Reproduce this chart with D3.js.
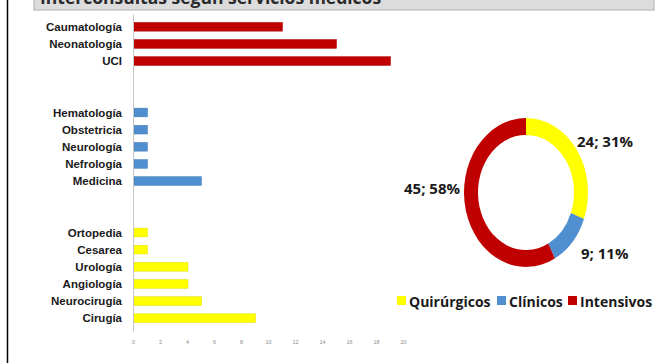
<!DOCTYPE html>
<html>
<head>
<meta charset="utf-8">
<script src="https://cdn.jsdelivr.net/npm/d3@7"></script>
<style>
  body { margin: 0; background: #fff; }
  svg { display: block; font-family: 'Open Sans', 'Noto Sans', sans-serif; }
  .cat text { font-size: 11.5px; font-weight: 600; fill: #1a1a1a; }
  .vals text { font-size: 5.5px; fill: #8c8c8c; }
  .big { font-size: 15px; font-weight: 700; fill: #1a1a1a; }
  .leg { font-size: 14px; font-weight: 700; fill: #1a1a1a; }
</style>
</head>
<body>
<svg></svg>
<script>
const WIDTH = 657
const HEIGHT = 363

// bar rows top to bottom, blank entries are the gaps between groups
const SERVICES = ['Caumatología', 'Neonatología', 'UCI', '_a', '_b',
  'Hematología', 'Obstetricia', 'Neurología', 'Nefrología', 'Medicina', '_c', '_d',
  'Ortopedia', 'Cesarea', 'Urología', 'Angiología', 'Neurocirugía', 'Cirugía']
const COUNTS = [11, 15, 19, null, null,
  1, 1, 1, 1, 5, null, null,
  1, 1, 4, 4, 5, 9]
const GROUP_OF = ['Intensivos', 'Intensivos', 'Intensivos', null, null,
  'Clínicos', 'Clínicos', 'Clínicos', 'Clínicos', 'Clínicos', null, null,
  'Quirúrgicos', 'Quirúrgicos', 'Quirúrgicos', 'Quirúrgicos', 'Quirúrgicos', 'Quirúrgicos']
const X_TICKS = [0, 2, 4, 6, 8, 10, 12, 14, 16, 18, 20]

const GROUPS = ['Quirúrgicos', 'Clínicos', 'Intensivos']
const GROUP_TOTALS = [24, 9, 45]
const GROUP_LABELS = ['24; 31%', '9; 11%', '45; 58%']
const GROUP_COLORS = ['#ffff00', '#4f8fd0', '#c00000']

const TITLE = 'Interconsultas según servicios médicos'

const color = d3.scaleOrdinal().domain(GROUPS).range(GROUP_COLORS)

const svg = d3.select('svg').attr('width', WIDTH).attr('height', HEIGHT)

// left frame line
svg.append('line')
  .attr('x1', 7.5).attr('x2', 7.5).attr('y1', 0).attr('y2', HEIGHT)
  .attr('stroke', '#000').attr('stroke-width', 1.5)

// title banner, cut at the top like the source image
svg.append('rect')
  .attr('x', 34).attr('y', -2).attr('width', 620).attr('height', 12)
  .attr('fill', '#dcdcdc').attr('stroke', '#b4bcbc').attr('stroke-width', 1.2)
svg.append('text')
  .attr('x', 40).attr('y', 4)
  .attr('font-size', 17.5).attr('font-weight', 700).attr('fill', '#2a2a2a')
  .text(TITLE)

// bar chart
const x = d3.scaleLinear().domain([0, 20]).range([133, 403])
const y = d3.scaleBand().domain(SERVICES).range([14, 331]).padding(0.49)

const bars = SERVICES.map((s, i) => ({ name: s, value: COUNTS[i], group: GROUP_OF[i] }))
  .filter(d => d.value !== null)

svg.append('g').selectAll('rect')
  .data(bars)
  .enter()
  .append('rect')
  .attr('x', x(0) + 1)
  .attr('y', d => y(d.name))
  .attr('width', d => x(d.value) - x(0))
  .attr('height', y.bandwidth())
  .attr('fill', d => color(d.group))
  .attr('stroke', d => d3.color(color(d.group)).darker(0.4))
  .attr('stroke-width', 0.5)

const yAxis = d3.axisLeft(y)
  .tickSize(0)
  .tickSizeOuter(0)
  .tickPadding(11)
  .tickFormat(d => d.startsWith('_') ? '' : d)

const yg = svg.append('g').attr('class', 'cat')
  .attr('transform', `translate(${x(0)},0)`)
  .call(yAxis)
yg.select('.domain').attr('stroke', '#c8c8c8')
yg.selectAll('text').attr('dy', '0.35em')

const xAxis = d3.axisBottom(x).tickValues(X_TICKS).tickSize(0).tickPadding(0)
const xg = svg.append('g').attr('class', 'vals')
  .attr('transform', 'translate(0,340)')
  .call(xAxis)
xg.select('.domain').remove()

// donut
const pie = d3.pie().sort(null).value(d => d.total)
const arcs = pie(GROUPS.map((g, i) => ({ group: g, total: GROUP_TOTALS[i], label: GROUP_LABELS[i] })))
const arc = d3.arc().innerRadius(48).outerRadius(62)

const donut = svg.append('g').attr('transform', 'translate(526,192.5) scale(1,1.2)')
donut.selectAll('path')
  .data(arcs)
  .enter()
  .append('path')
  .attr('d', arc)
  .attr('fill', d => color(d.data.group))

const labelPos = [[577, 147], [581, 259], [404, 194]]
svg.append('g').selectAll('text')
  .data(arcs)
  .enter()
  .append('text')
  .attr('class', 'big')
  .attr('x', (d, i) => labelPos[i][0])
  .attr('y', (d, i) => labelPos[i][1])
  .text(d => d.data.label)

// legend
const legendX = [397, 497, 568]
const legend = svg.append('g').selectAll('g')
  .data(GROUPS)
  .enter()
  .append('g')
  .attr('transform', (d, i) => `translate(${legendX[i]},296)`)
legend.append('rect')
  .attr('width', 9).attr('height', 9)
  .attr('fill', d => color(d))
legend.append('text')
  .attr('class', 'leg')
  .attr('x', 12).attr('y', 10.5)
  .text(d => d)
</script>
</body>
</html>
